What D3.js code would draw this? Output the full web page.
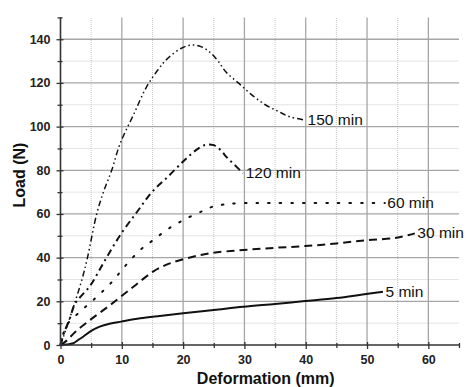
<!DOCTYPE html>
<html><head><meta charset="utf-8">
<script src="https://cdn.jsdelivr.net/npm/d3@7"></script>
<style>
html,body{margin:0;padding:0;background:#fff;}
svg{display:block;font-family:"Liberation Sans",Arial,sans-serif;}
</style></head>
<body><svg id="c" width="470" height="387"></svg>
<script>
// ---- data ----
const seriesNames = ["5 min","30 min","60 min","120 min","150 min"];
const s5 = [[0,0],[1,0.2],[2.1,0.8],[3,2.5],[3.7,3.8],[5,6.5],[6.4,8.4],[8,9.7],[9.9,10.7],[13,12.2],[16.2,13.3],[20,14.5],[25,16],[29.8,17.5],[35,18.8],[39.9,20.1],[45,21.5],[49,23],[52.6,24.4]];
const s30 = [[0,0],[1,2],[2.4,6],[4.8,11.4],[8.1,18.3],[11.9,26.7],[15.1,33.6],[17.5,37],[20.6,39.7],[24.4,42],[29.8,43.5],[35,44.5],[39.9,45.3],[45,46.5],[50,48],[54.8,49.1],[57.8,51.1]];
const s60 = [[0,0],[1,9],[3.5,16],[5.9,22],[8.1,28],[10.5,36],[13,43.5],[15.1,48],[17.7,53.4],[20.6,58],[23.3,61.5],[24.8,63.3],[26.8,64.4],[29,64.9],[35,65],[45,65],[52.9,65]];
const s120 = [[0,0],[0.5,5],[1.5,12],[2.4,19],[4.8,27],[7.3,39],[9.9,51],[12.5,61],[14.9,70],[17.5,77],[20,84],[22,89],[23.6,91.6],[25,91.5],[26.2,89],[27.1,86],[28.2,83],[29.8,78.6]];
const s150 = [[0,0],[1,8],[2.4,20],[3.5,30],[4.4,40],[5.9,60],[7,70],[8.35,80],[9.7,92],[12,106],[14,118],[15.9,126],[17.4,131],[19.8,136],[21.5,137.4],[23,136.5],[24.4,134],[25.7,130],[27,125],[29,120],[31,115],[33.4,110],[35.5,107],[37.4,104.5],[39.9,103]];
const seriesValues = [s5,s30,s60,s120,s150];
const xTicks = [0,10,20,30,40,50,60];
const yTicks = [0,20,40,60,80,100,120,140];
const xMinor = [5,15,25,35,45,55,65];
const yMinor = [10,30,50,70,90,110,130,150];

// ---- styles ----
const styles = [
  {w:2, dash:null},
  {w:2, dash:"8,5"},
  {w:2, dash:"1.6,10", cap:"round"},
  {w:2, dash:"7,4,2,4"},
  {w:1.5, dash:"6,3,1.5,3,1.5,3"}
];

const svg = d3.select("#c");
const x = d3.scaleLinear().domain([0,65]).range([60.5,459]);
const y = d3.scaleLinear().domain([0,150]).range([345,17.4]);

// grid minor
const g = svg.append("g");
g.selectAll(".vmin").data(xMinor.filter(d=>d<65)).join("line")
 .attr("x1",d=>x(d)).attr("x2",d=>x(d)).attr("y1",y(0)).attr("y2",y(150))
 .attr("stroke","#c8c8c8").attr("stroke-width",1).attr("stroke-dasharray","1,1");
g.selectAll(".hmin").data(yMinor.filter(d=>d<150)).join("line")
 .attr("y1",d=>y(d)).attr("y2",d=>y(d)).attr("x1",x(0)).attr("x2",x(65))
 .attr("stroke","#c8c8c8").attr("stroke-width",1).attr("stroke-dasharray","1,1");
// grid major
g.selectAll(".vmaj").data(xTicks.filter(d=>d>0)).join("line")
 .attr("x1",d=>x(d)).attr("x2",d=>x(d)).attr("y1",y(0)).attr("y2",y(150))
 .attr("stroke","#a6a6a6").attr("stroke-width",1.3);
g.selectAll(".hmaj").data(yTicks.filter(d=>d>0)).join("line")
 .attr("y1",d=>y(d)).attr("y2",d=>y(d)).attr("x1",x(0)).attr("x2",x(65))
 .attr("stroke","#a6a6a6").attr("stroke-width",1.3);

// series
const line = d3.line().x(d=>x(d[0])).y(d=>y(d[1])).curve(d3.curveCatmullRom.alpha(0.5));
seriesValues.forEach((s,i)=>{
  const st = styles[i];
  svg.append("path").attr("d",line(s)).attr("fill","none").attr("stroke","#111")
   .attr("stroke-width",st.w).attr("stroke-dasharray",st.dash)
   .attr("stroke-linecap",st.cap||"butt");
  const last = s[s.length-1];
  svg.append("text").attr("x",x(last[0])+2.5).attr("y",y(last[1])+5)
   .attr("font-size","15.5px").attr("fill","#111").text(seriesNames[i]);
});

// axes
const xAxis = svg.append("g").attr("transform",`translate(0,${y(0)})`);
xAxis.call(d3.axisBottom(x).tickValues(xTicks).tickSize(4).tickPadding(6).tickFormat(d3.format("d")));
const xAxisMin = svg.append("g").attr("transform",`translate(0,${y(0)})`);
xAxisMin.call(d3.axisBottom(x).tickValues(xMinor).tickSize(3).tickFormat(""));
const yAxis = svg.append("g").attr("transform",`translate(${x(0)},0)`);
yAxis.call(d3.axisLeft(y).tickValues(yTicks).tickSize(4).tickPadding(6).tickFormat(d3.format("d")));
const yAxisMin = svg.append("g").attr("transform",`translate(${x(0)},0)`);
yAxisMin.call(d3.axisLeft(y).tickValues(yMinor).tickSize(3).tickFormat(""));
[xAxis,xAxisMin,yAxis,yAxisMin].forEach(a=>{
  a.select(".domain").attr("stroke","#333").attr("stroke-width",1.6);
  a.selectAll(".tick line").attr("stroke","#333").attr("stroke-width",1.3);
  a.selectAll("text").attr("font-size","12.5px").attr("font-weight","bold")
   .attr("fill","#222").attr("font-family","'Liberation Sans',Arial,sans-serif");
});
// inner tick parts (ticks cross axis)
xAxis.selectAll(".tick line").attr("y1",-3);
xAxisMin.selectAll(".tick line").attr("y1",-2);
yAxis.selectAll(".tick line").attr("x1",3);
yAxisMin.selectAll(".tick line").attr("x1",2);
xAxis.select(".domain").attr("d",`M${x(0)},0H${x(65)}`);
xAxisMin.select(".domain").remove();
yAxis.select(".domain").attr("d",`M0,${y(0)}V${y(150)}`);
yAxisMin.select(".domain").remove();

// titles
svg.append("text").attr("x",(x(0)+x(65))/2+6).attr("y",384).attr("text-anchor","middle")
 .attr("font-size","16px").attr("font-weight","bold").attr("fill","#111").text("Deformation (mm)");
svg.append("text").attr("transform","translate(25,175) rotate(-90)").attr("text-anchor","middle")
 .attr("font-size","16px").attr("font-weight","bold").attr("fill","#111").text("Load (N)");
</script></body></html>
